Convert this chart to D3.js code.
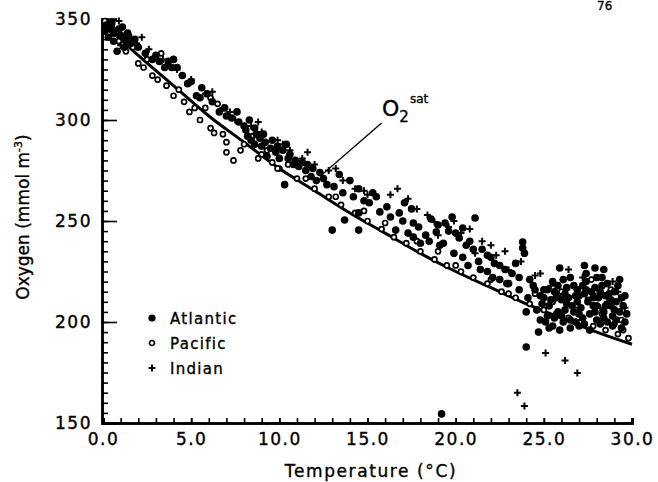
<!DOCTYPE html>
<html>
<head>
<meta charset="utf-8">
<script src="https://cdnjs.cloudflare.com/ajax/libs/d3/7.8.5/d3.min.js"></script>
<style>
  body { margin: 0; background: #fff; }
  svg text { font-family: "DejaVu Sans", Arial, sans-serif; fill: #000; stroke: #000; stroke-width: 0.35px; }
</style>
</head>
<body>
<svg id="chart"></svg>
<script>
/*
Values: temperature (°C) vs oxygen (mmol m-3).
 */
var satTemp = [0, 2, 4, 6, 8, 10, 12, 14, 16, 18, 20, 22, 24, 26, 28, 30];
var satOxygen = [348, 332, 317, 302, 289, 276, 265, 254, 244, 234, 225, 217, 209, 202, 195, 189];

var atlantic = [
    [0.2,347],[0.4,345],[0.6,343],[0.8,334],[1.0,342],[1.3,340],[1.6,338],[2.4,333],[2.8,330],[3.2,329],
    [3.5,326],[3.9,326],[4.0,330],[4.8,318],[5.3,312],[5.5,311],[5.6,316],[6.6,304],[7.3,301],[7.7,299],
    [8.0,297],[8.3,300],[8.6,296],[8.2,292],[8.6,288],[8.9,291],[9.2,289],[9.5,286],[9.8,284],[10.2,285],
    [10.5,281],[10.3,268],[10.8,278],[11.1,277],[11.5,275],[11.8,272],[12.1,270],[12.5,271],[13.0,245.5],[13.4,273],
    [13.7,250.5],[14.0,270],[14.5,266],[14.5,254],[14.5,245.5],[15.1,259],[15.3,264],[15.7,254.5],[16.1,257],[16.6,245.5],
    [16.8,254],[17.1,259],[17.5,256],[17.6,249],[17.6,242],[18.0,239],[18.9,244.5],[19.3,239],[19.4,249],[19.8,252],
    [20.2,241.6],[20.4,246.5],[20.4,232],[20.8,240],[21.1,251.5],[21.5,236],[22.0,232],[22.5,228],[23.0,219],[23.4,229],
    [23.6,222],[23.8,239.6],[23.8,236.6],[23.9,234],[24.0,205],[24.0,187.6],[24.7,195],[19.2,154.5],[25.5,220],[25.9,226.7],
    [26.5,222],[27.3,228],[27.4,224],[27.9,226.7],[28.4,226],[28.0,222],[25.0,212],[25.3,208],[25.6,215],[25.8,205],
    [26.0,211],[26.3,217],[26.6,208],[26.8,213],[27.0,204],[27.2,218],[27.5,210],[27.7,215],[27.9,205],[28.1,212],
    [28.3,218],[28.5,208],[28.7,214],[28.9,203],[29.1,210],[29.3,205],[26.1,200],[27.0,198],[28.2,199],[22.5,221],
    [21.8,225],[24.5,216],[25.2,203],[25.5,198],[25.9,196],[26.2,206],[26.5,197],[26.9,210],[27.2,202],[27.6,196],
    [28.0,208],[28.4,202],[28.8,208],[29.0,215],[29.4,212],[24.9,209],[25.7,212],[26.4,212],[27.3,214],[28.6,219],
    [27.9,217],[26.7,218],[25.2,216],[29.6,200],
    [0.1,344],[0.3,341],[0.5,348],[0.9,345],[1.1,346],[1.4,343],[1.8,340],[2.0,336],[0.6,339],[1.2,336],
    [3.0,332],[3.7,329],[4.2,326],[4.5,322],[5.0,319],[5.9,313],[6.2,309],[6.9,306],[7.0,302],[7.6,304],
    [8.1,295],[8.4,290],[8.7,293],[9.0,287],[9.1,293],[9.3,282],[9.6,290],[9.9,287],[10.0,281],[10.4,288],
    [10.6,283],[10.9,280],[11.3,279],[11.6,278],[11.9,276],[12.3,274],[12.7,268],[13.1,267],[13.6,264],[14.2,262],
    [14.8,260],[15.5,262],[16.3,252],[17.0,250],[17.9,247],[18.3,243],[18.6,251],[19.0,248],[19.6,245],[20.0,244],
    [20.6,238],[21.0,236],[21.3,230],[21.8,233],[22.2,229],[22.8,226],[23.2,224],[24.2,221],[24.4,218],[24.8,213],
    [20.7,228],[21.4,226],[22.1,222],[22.9,219],[23.6,216],[24.1,212],[19.9,234],[19.1,238],[18.5,240],[17.3,244],
    [25.1,200],[25.4,211],[25.8,218],[26.0,203],[26.2,214],[26.5,201],[26.7,205],[26.9,216],[27.1,207],[27.3,199],
    [27.4,220],[27.6,204],[27.8,212],[28.0,201],[28.2,215],[28.4,205],[28.6,200],[28.8,211],[29.0,206],[29.2,218],
    [29.4,197],[29.5,208],[29.7,204],[25.0,216],[25.6,202],[26.3,209],[27.0,213],[27.8,208],[28.5,213],[29.1,201],
    [24.6,206],[24.8,201],[25.3,197],[26.8,200],[28.9,198],[29.6,213],[27.4,216],[26.1,221],[28.3,222],[29.3,221]
];

var pacific = [
    [0.1,349],[0.5,346],[0.9,339],[2.0,328],[2.8,322],[3.1,320],[3.6,317],[4.3,315],[4.9,304],[6.1,311],
    [6.5,308],[6.1,296],[6.3,293.6],[7.0,289],[7.0,284],[7.4,280],[5.8,306],[8.0,288],[9.0,283],[9.6,279],
    [10.0,276],[11.0,271],[12.0,266],[12.8,262],[13.5,258],[14.3,254],[15.0,250],[15.8,246],[16.5,242],[17.2,239],
    [18.0,235],[18.8,231],[19.5,228],[20.3,225],[21.0,222],[21.8,219],[22.6,215],[23.4,212],[24.2,209],[25.0,206],
    [25.7,204],[26.4,202],[27.1,200],[27.8,198],[28.5,196],[29.2,194],[29.8,192],[24.5,214],[25.5,210],[26.8,206],
    [27.5,211],[28.3,204],[29.0,199],[29.4,201],[26.0,215],[27.7,221],[28.8,216],[29.5,196],[23.0,214],[22.0,221],
    [20.0,228],[19.0,235],[17.8,240],[16.0,249],[14.8,255],[13.2,262],[11.5,271],[10.5,278],[9.3,285],[8.5,292],
    [3.3,333],[1.7,336],
    [1.3,334],[2.3,326],[4.0,312],[4.6,309],[5.2,306],[5.5,300],[6.8,293],[7.8,285],[8.8,281],[9.9,276],
    [1.5,339],[2.5,330]
];

var indian = [
    [0.3,348],[0.7,344],[1.2,341],[1.6,341],[2.2,341],[1.0,337],[2.6,335],[3.4,330],[4.5,322],[5.0,320],
    [5.8,313],[6.8,306],[7.5,300],[8.4,297],[9.0,294],[9.9,290],[10.6,285],[11.3,281],[12.0,278],[12.8,275],
    [13.6,270],[14.3,266],[15.0,263],[16.3,263],[16.7,266],[17.3,261],[18.4,253],[18.8,249.5],[19.6,247],[20.3,244],
    [21.1,234],[22.0,238],[23.0,225.7],[23.7,230],[24.5,223],[25.1,184.7],[26.2,181],[26.9,174.8],[23.5,165],[23.9,158.4],
    [28.9,220],[26.4,226],[27.8,214],[28.6,210],[29.2,215],[25.4,218],[29.6,207],[22.8,235],[20.8,246],[19.0,243],
    [0.9,349],[1.9,338],[3.8,327],[4.2,325],[6.2,314],[7.2,304],[8.8,299],[10.2,288],[11.6,284],[13.2,276],
    [14.8,265],[17.8,256],[19.9,250],[21.5,240],[22.3,233],[24.8,224],[27.2,222],[25.8,213],[28.2,207],[29.4,211]
];

var xTicks = [0, 5, 10, 15, 20, 25, 30];
var yTicks = [150, 200, 250, 300, 350];
var legendNames = ["Atlantic", "Pacific", "Indian"];

/*
Layout
 */
const width = 658;
const height = 482;
const plotLeft = 103, plotRight = 632, plotTop = 19, plotBottom = 423;

var svg = d3.select("#chart")
    .attr("width", width)
    .attr("height", height);

var x = d3.scaleLinear().domain([0, 30]).range([plotLeft, plotRight]);
var y = d3.scaleLinear().domain([150, 350]).range([plotBottom, plotTop]);

//page number at the top edge of the scan
svg.append("text")
    .attr("x", 597).attr("y", 10)
    .style("font-size", "12px")
    .text("76");

//axes: minor ticks first, then major with labels
svg.append("g")
    .attr("transform", "translate(" + (plotLeft - 1) + ",0)")
    .call(d3.axisLeft(y).tickValues(d3.range(150, 351, 5)).tickSize(-6).tickFormat(""));
svg.append("g")
    .attr("transform", "translate(" + (plotLeft - 1) + ",0)")
    .call(d3.axisLeft(y).tickValues(yTicks).tickSize(-15).tickPadding(10).tickFormat(d3.format("d")));

svg.append("g")
    .attr("transform", "translate(0," + plotBottom + ")")
    .call(d3.axisBottom(x).tickValues(d3.range(0, 31, 1)).tickSize(-5).tickFormat(""));
svg.append("g")
    .attr("transform", "translate(0," + plotBottom + ")")
    .call(d3.axisBottom(x).tickValues(xTicks).tickSize(-5).tickPadding(10).tickFormat(d3.format(".1f")));

svg.selectAll(".domain").attr("stroke", "#000").attr("stroke-width", 2.5);
svg.selectAll(".tick line").attr("stroke", "#000").attr("stroke-width", 1.6);
svg.selectAll(".tick text")
    .style("font-size", "17px")
    .style("letter-spacing", "1.5px")
    .style("font-family", "'DejaVu Sans', Arial, sans-serif");

//axis titles
svg.append("text")
    .attr("x", 371).attr("y", 477)
    .attr("text-anchor", "middle")
    .style("font-size", "17px")
    .style("letter-spacing", "1.6px")
    .text("Temperature (°C)");

var yTitle = svg.append("text")
    .attr("transform", "translate(29,217) rotate(-90)")
    .attr("text-anchor", "middle")
    .style("font-size", "17px");
yTitle.append("tspan").text("Oxygen (mmol m");
yTitle.append("tspan").attr("dy", -7).style("font-size", "11px").text("-3");
yTitle.append("tspan").attr("dy", 7).text(")");

//saturation curve
var line = d3.line()
    .x(function(d) { return x(d[0]); })
    .y(function(d) { return y(d[1]); })
    .curve(d3.curveMonotoneX);

svg.append("path")
    .datum(d3.zip(satTemp, satOxygen))
    .attr("fill", "none")
    .attr("stroke", "#000")
    .attr("stroke-width", 3)
    .attr("d", line);

//points
svg.append("g").selectAll("circle")
    .data(pacific)
    .join("circle")
    .attr("cx", function(d) { return x(d[0]); })
    .attr("cy", function(d) { return y(d[1]); })
    .attr("r", 2.5)
    .attr("fill", "#fff")
    .attr("stroke", "#000")
    .attr("stroke-width", 1.7);

svg.append("g").selectAll("circle")
    .data(atlantic)
    .join("circle")
    .attr("cx", function(d) { return x(d[0]); })
    .attr("cy", function(d) { return y(d[1]); })
    .attr("r", 3.8)
    .attr("fill", "#000");

svg.append("g").selectAll("path")
    .data(indian)
    .join("path")
    .attr("transform", function(d) { return "translate(" + x(d[0]) + "," + y(d[1]) + ")"; })
    .attr("d", "M-3.5,0H3.5M0,-3.5V3.5")
    .attr("stroke", "#000")
    .attr("stroke-width", 2);

//O2 sat annotation
svg.append("line")
    .attr("x1", x(12.3)).attr("y1", y(272))
    .attr("x2", x(15.8)).attr("y2", y(298.5))
    .attr("stroke", "#000")
    .attr("stroke-width", 1.3);

var o2 = svg.append("text")
    .attr("x", 382).attr("y", 116)
    .style("font-size", "22px");
o2.append("tspan").text("O");
o2.append("tspan").attr("dy", 6).style("font-size", "15px").text("2");
o2.append("tspan").attr("dx", 1).attr("dy", -19).style("font-size", "12px").text("sat");

//legend
var legend = svg.append("g").selectAll("g")
    .data(legendNames)
    .join("g")
    .attr("transform", function(d, i) { return "translate(152," + (318 + i * 25) + ")"; });

legend.each(function(d, i) {
    var g = d3.select(this);
    if (i === 0) g.append("circle").attr("r", 3.6).attr("fill", "#000");
    if (i === 1) g.append("circle").attr("r", 2.5).attr("fill", "#fff").attr("stroke", "#000").attr("stroke-width", 1.7);
    if (i === 2) g.append("path").attr("d", "M-3.5,0H3.5M0,-3.5V3.5").attr("stroke", "#000").attr("stroke-width", 2);
    g.append("text")
        .attr("x", 18).attr("y", 6)
        .style("font-size", "15px")
        .style("letter-spacing", "1.3px")
        .text(d);
});
</script>
</body>
</html>
